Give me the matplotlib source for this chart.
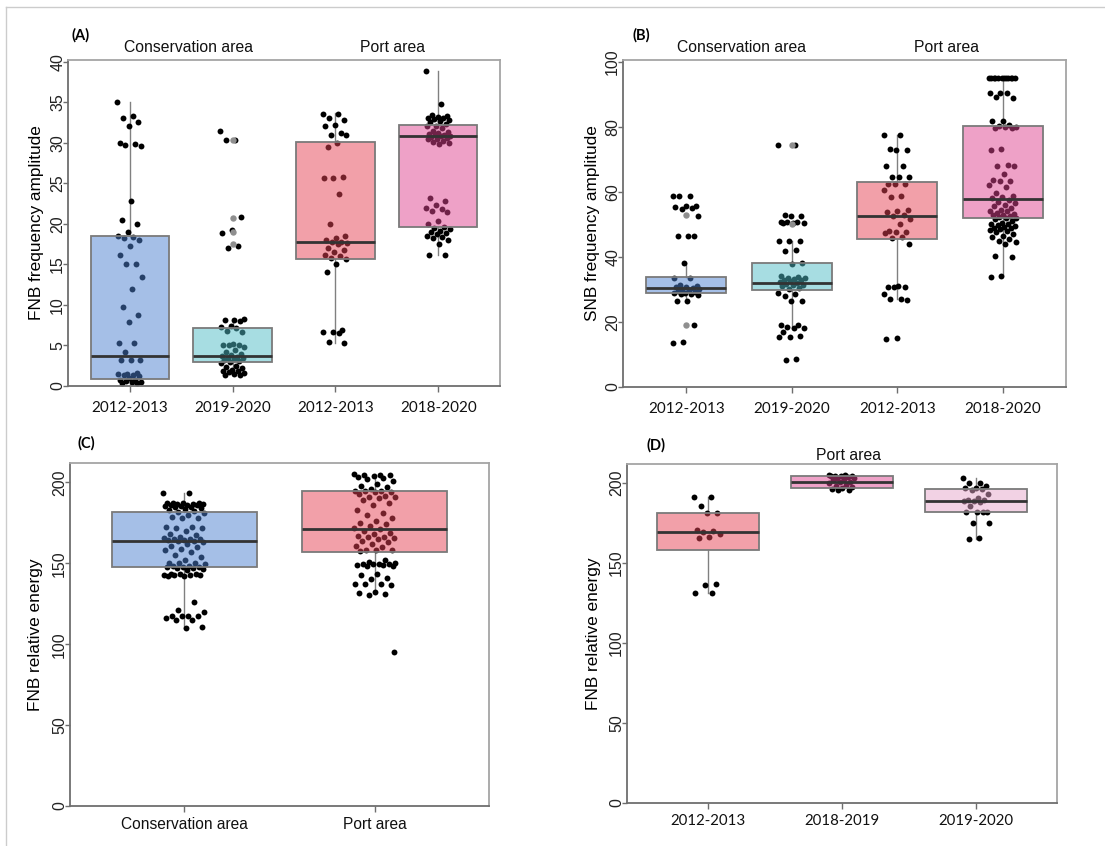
import matplotlib
matplotlib.use("Agg")
import matplotlib.pyplot as plt
import numpy as np
from matplotlib.colors import to_rgb
from matplotlib.lines import Line2D

# ---- (A) FNB frequency amplitude ----
a_groups = ["2012-2013", "2019-2020", "2012-2013", "2018-2020"]
a_cons_1213 = [35.0, 33.3, 33.0, 32.5, 32.0, 30.0, 29.8, 29.7, 29.6, 22.8, 20.5, 20.0, 19.0,
               18.5, 18.4, 18.3, 18.0, 17.3, 16.2, 15.0, 15.0, 13.5, 12.0, 9.7, 8.8, 7.9, 5.3,
               5.3, 4.2, 3.2, 3.2, 3.2, 1.6, 1.5, 1.5, 1.4, 1.3, 1.2, 1.0, 0.8, 0.7, 0.6, 0.5,
               0.5, 0.4, 0.4]
a_cons_1920 = [31.5, 30.3, 30.3, 20.8, 19.2, 18.9, 17.3, 17.0, 8.3, 8.2, 8.1, 8.0, 7.4, 7.3,
               7.2, 6.8, 6.6, 5.2, 5.1, 5.0, 5.0, 4.8, 4.5, 4.2, 4.0, 3.8, 3.7, 3.6, 3.5, 3.4,
               3.3, 3.2, 3.1, 3.0, 2.8, 2.5, 2.3, 2.2, 2.0, 1.9, 1.8, 1.7, 1.6, 1.5, 1.4, 1.3]
a_port_1213 = [33.6, 33.5, 33.0, 32.8, 32.2, 32.0, 31.2, 31.0, 30.9, 30.0, 29.5, 25.8, 25.7,
               25.6, 23.7, 20.0, 18.5, 18.3, 18.0, 17.8, 17.7, 17.6, 17.5, 17.0, 16.8, 16.5,
               16.2, 16.0, 15.8, 15.7, 15.0, 14.0, 6.9, 6.7, 6.6, 6.5, 5.4, 5.3]
a_port_1820 = [38.8, 34.8, 33.4, 33.3, 33.2, 33.1, 33.0, 32.9, 32.8, 32.7, 32.5, 32.3, 32.1,
               32.0, 31.8, 31.5, 31.3, 31.2, 31.1, 31.0, 30.9, 30.8, 30.8, 30.7, 30.6, 30.5,
               30.4, 30.2, 30.1, 30.0, 29.8, 23.2, 22.8, 22.3, 22.0, 21.8, 21.6, 21.5, 20.3,
               20.0, 19.6, 19.5, 19.3, 19.1, 19.0, 18.9, 18.7, 18.5, 18.4, 18.2, 18.0, 17.5,
               16.2, 16.1]
# q1, median, q3, lower whisker, upper whisker
a_q1 = [0.86, 2.9, 15.7, 19.6]
a_med = [3.7, 3.7, 17.8, 30.8]
a_q3 = [18.5, 7.1, 30.1, 32.2]
a_lo = [0.3, 1.3, 5.3, 16.2]
a_hi = [35.0, 8.3, 33.7, 38.8]
a_out = [[], [30.3, 20.7, 19.0, 17.5], [], []]

# ---- (B) SNB frequency amplitude ----
b_groups = ["2012-2013", "2019-2020", "2012-2013", "2018-2020"]
b_cons_1213 = [58.8, 58.7, 58.6, 55.6, 55.5, 55.3, 55.0, 54.8, 52.5, 46.5, 46.4, 46.3, 38.0,
               33.6, 33.4, 31.2, 31.0, 30.8, 30.6, 30.4, 30.2, 30.0, 29.8, 29.5, 29.2, 29.0,
               28.8, 28.6, 28.5, 28.4, 26.5, 26.4, 19.2, 13.7, 13.6]
b_cons_1920 = [74.5, 74.4, 52.8, 52.7, 52.6, 50.8, 50.7, 50.6, 50.5, 50.4, 50.3, 45.0, 44.9,
               44.8, 42.0, 41.9, 38.0, 37.9, 34.0, 33.8, 33.6, 33.4, 33.2, 33.0, 32.8, 32.5,
               32.2, 32.0, 31.8, 31.5, 31.2, 31.0, 30.5, 30.0, 29.0, 28.5, 28.0, 26.5, 26.4,
               19.2, 19.1, 18.3, 18.2, 18.1, 17.0, 15.6, 15.5, 15.4, 8.5, 8.4]
b_port_1213 = [77.6, 77.5, 73.0, 72.9, 72.8, 68.0, 67.9, 64.6, 64.5, 64.4, 62.5, 62.4, 62.3,
               60.5, 58.6, 58.5, 54.5, 54.0, 53.8, 53.0, 52.5, 51.5, 50.2, 47.8, 47.6, 47.5,
               47.4, 46.2, 45.8, 43.8, 30.9, 30.8, 30.7, 30.6, 28.5, 27.0, 26.9, 26.8, 15.0,
               14.9]
b_port_1820 = [95.0, 95.0, 95.0, 95.0, 95.0, 95.0, 95.0, 95.0, 95.0, 95.0, 95.0, 95.0, 90.5,
               90.4, 90.3, 89.0, 88.9, 81.8, 81.7, 80.5, 80.2, 80.0, 79.8, 79.6, 79.5, 73.0,
               72.9, 68.2, 68.0, 67.8, 65.5, 63.6, 63.4, 63.2, 62.0, 61.5, 59.5, 58.8, 58.5,
               58.0, 57.5, 57.0, 56.5, 56.0, 55.5, 55.0, 54.5, 54.2, 54.0, 53.5, 53.2, 53.0,
               52.8, 52.5, 52.2, 52.0, 51.8, 51.5, 51.0, 50.5, 50.2, 50.0, 49.8, 49.5, 49.2,
               49.0, 48.8, 48.5, 48.2, 48.0, 47.5, 47.0, 46.5, 46.0, 45.5, 45.0, 44.5, 44.0,
               40.2, 40.1, 34.0, 33.9]
b_q1 = [28.9, 29.9, 45.4, 51.8]
b_med = [30.3, 32.1, 52.7, 57.7]
b_q3 = [33.8, 38.0, 63.1, 80.2]
b_lo = [26.7, 18.2, 27.0, 34.0]
b_hi = [38.0, 45.0, 77.6, 94.9]
b_out = [[53.0, 19.2], [74.5, 50.0], [], []]

# ---- (C) FNB relative energy by area ----
c_groups = ["Conservation area", "Port area"]
c_cons = [193.5, 193.3, 187.5, 187.4, 187.2, 187.0, 186.8, 186.6, 186.5, 186.3, 186.0, 185.8,
          185.5, 185.2, 185.0, 184.5, 184.0, 183.5, 183.0, 182.5, 182.0, 181.0, 180.0, 178.5,
          178.3, 178.0, 172.5, 172.3, 172.0, 171.8, 170.0, 168.0, 167.5, 166.0, 165.5, 165.2,
          165.0, 164.8, 164.5, 164.2, 164.0, 163.5, 163.0, 162.0, 161.0, 160.0, 159.0, 158.0,
          157.0, 155.0, 154.0, 152.0, 150.5, 150.2, 150.0, 149.5, 148.5, 148.2, 148.0, 147.8,
          147.5, 147.2, 147.0, 146.5, 146.0, 143.5, 143.3, 143.2, 143.0, 142.8, 142.6, 142.5,
          142.4, 142.3, 126.0, 121.0, 120.0, 117.5, 117.4, 117.3, 117.2, 116.0, 115.0, 114.8,
          110.5, 110.3]
c_port = [205.0, 204.8, 204.5, 204.3, 204.0, 203.5, 203.0, 202.0, 201.0, 199.0, 198.0, 197.0,
          196.0, 195.0, 194.8, 194.5, 194.2, 194.0, 193.0, 191.5, 191.0, 190.8, 190.5, 189.0,
          187.0, 186.0, 183.0, 181.0, 180.0, 178.0, 176.0, 175.0, 174.5, 173.0, 172.0, 171.0,
          170.0, 169.0, 168.0, 167.0, 166.5, 166.0, 165.5, 165.0, 164.0, 163.0, 162.0, 161.0,
          160.0, 158.5, 158.3, 158.0, 157.5, 152.0, 151.0, 150.0, 149.8, 149.6, 149.5, 149.3,
          149.0, 148.8, 148.5, 148.2, 143.5, 143.0, 141.0, 140.5, 137.5, 137.3, 137.0, 136.8,
          132.0, 131.5, 131.0, 130.5, 95.0]
c_q1 = [148.0, 157.0]
c_med = [163.6, 171.5]
c_q3 = [182.0, 194.8]
c_lo = [110.0, 130.8]
c_hi = [193.4, 205.0]

# ---- (D) FNB relative energy, port area by period ----
d_groups = ["2012-2013", "2018-2019", "2019-2020"]
d_1213 = [191.6, 191.5, 186.0, 181.6, 181.4, 171.0, 170.2, 169.5, 168.5, 166.2, 166.0, 136.8,
          136.6, 131.5, 131.3]
d_1819 = [205.0, 204.9, 204.8, 204.6, 204.5, 204.2, 204.0, 203.5, 203.0, 202.5, 202.0, 201.0,
          200.5, 200.0, 199.0, 198.0, 197.5, 197.0, 196.5, 196.0, 195.8]
d_1920 = [203.2, 200.4, 200.2, 198.0, 197.0, 196.8, 196.6, 196.0, 193.0, 191.0, 189.5, 189.2,
          189.0, 188.6, 188.3, 186.0, 182.2, 182.1, 182.0, 181.9, 175.2, 175.0, 165.5, 165.4]
d_q1 = [158.2, 197.3, 182.1]
d_med = [169.7, 201.0, 189.0]
d_q3 = [181.6, 204.2, 196.5]
d_lo = [131.5, 195.8, 165.4]
d_hi = [191.6, 205.0, 203.2]

BLUE, CYAN, RED, PINK, LPINK = "#4D81D1", "#51BDC7", "#E74355", "#DF4591", "#E7A7CB"

W, H = 1105, 846
fig = plt.figure(figsize=(W / 100, H / 100), dpi=100)
plt.rcParams['font.family'] = ['Liberation Sans', 'DejaVu Sans']


def panel(l, t, r, b):
    return fig.add_axes([l / W, 1 - b / H, (r - l) / W, (b - t) / H])


def ftext(px, py, s, **kw):
    fig.text(px / W, 1 - py / H, s, ha='center', va='center', **kw)


def draw(ax, series, q1, med, q3, lo, hi, colors, labels, jit, outs=None,
         xfont='Lato', xsize=11, xpad=7):
    pos = np.arange(1, len(series) + 1)
    for p, vals in zip(pos, series):
        n = len(vals)
        off = ((np.arange(n) * 0.618034) % 1 - 0.5) * 2 * jit
        ax.scatter(p + off, vals, s=18, color='black', linewidths=0, zorder=2)
    stats = []
    for i in range(len(series)):
        stats.append({'q1': q1[i], 'med': med[i], 'q3': q3[i], 'whislo': lo[i],
                      'whishi': hi[i], 'fliers': (outs[i] if outs else [])})
    bp = ax.bxp(stats, positions=pos, widths=0.76, patch_artist=True, showcaps=False,
                boxprops=dict(edgecolor='#7a7a7a', linewidth=1.3),
                medianprops=dict(color='#333333', linewidth=2.0),
                whiskerprops=dict(color='#808080', linewidth=1.0),
                flierprops=dict(marker='o', markerfacecolor='#8f8f8f',
                                markeredgecolor='none', markersize=4.6),
                zorder=3)
    for box, c in zip(bp['boxes'], colors):
        box.set_facecolor((*to_rgb(c), 0.5))
    for w in bp['whiskers']:
        w.set_zorder(1)
    for f in bp['fliers']:
        f.set_zorder(4)
    ax.set_xlim(0.4, len(series) + 0.6)
    ax.set_xticks(pos)
    ax.set_xticklabels(labels, fontfamily=xfont, fontsize=xsize, color='#111111')
    for s in ['top', 'right']:
        ax.spines[s].set_color('#a5a5a5')
    for s in ['left', 'bottom']:
        ax.spines[s].set_color('#6e6e6e')
    for s in ax.spines.values():
        s.set_linewidth(1.3)
    ax.tick_params(axis='y', length=3.5, width=1, color='#6e6e6e', pad=-1.5, labelsize=11.5,
                   labelcolor='#222222', labelrotation=90)
    ax.tick_params(axis='x', length=4, width=1, color='#6e6e6e', pad=xpad)
    for lab in ax.get_yticklabels():
        lab.set_va('center')


def ylab(ax, text, xfrac):
    ax.set_ylabel(text, fontsize=12.4)
    ax.yaxis.set_label_coords(xfrac, 0.5)


# (A)
axA = panel(68, 60, 500, 386)
draw(axA, [a_cons_1213, a_cons_1920, a_port_1213, a_port_1820], a_q1, a_med, a_q3, a_lo,
     a_hi, [BLUE, CYAN, RED, PINK], a_groups, 0.12, a_out)
axA.set_ylim(0, 40.2)
axA.set_yticks(np.arange(0, 41, 5))
ylab(axA, "FNB frequency amplitude", -0.056)

# (B)
axB = panel(623, 60, 1066, 387)
draw(axB, [b_cons_1213, b_cons_1920, b_port_1213, b_port_1820], b_q1, b_med, b_q3, b_lo,
     b_hi, [BLUE, CYAN, RED, PINK], b_groups, 0.13, b_out)
axB.set_ylim(0, 100.5)
axB.set_yticks(np.arange(0, 101, 20))
ylab(axB, "SNB frequency amplitude", -0.052)

# (C)
axC = panel(70, 463, 489, 806)
draw(axC, [c_cons, c_port], c_q1, c_med, c_q3, c_lo, c_hi, [BLUE, RED], c_groups, 0.11,
     xfont='Liberation Sans', xsize=11.2, xpad=4)
axC.set_ylim(0, 212)
axC.set_yticks(np.arange(0, 201, 50))
ylab(axC, "FNB relative energy", -0.064)

# (D)
axD = panel(627, 464, 1057, 803)
draw(axD, [d_1213, d_1819, d_1920], d_q1, d_med, d_q3, d_lo, d_hi, [RED, PINK, LPINK],
     d_groups, 0.1, xsize=10.8, xpad=4)
axD.set_ylim(0, 212)
axD.set_yticks(np.arange(0, 201, 50))
ylab(axD, "FNB relative energy", -0.060)

# panel letters and group headings
for x, y, s in [(81, 35, "(A)"), (641, 35, "(B)"), (86, 443, "(C)"), (656, 445, "(D)")]:
    ftext(x, y, s, fontfamily='Lato', fontweight='bold', fontsize=10.5)
for x, y, s in [(189, 48, "Conservation area"), (392, 48, "Port area"),
                (742, 48, "Conservation area"), (947, 48, "Port area"),
                (848, 455, "Port area")]:
    ftext(x, y, s, fontsize=11.3, color='#111111')

# thin outer frame on the top and left
fig.add_artist(Line2D([6 / W, 1], [1 - 7 / H, 1 - 7 / H], color='#cccccc', lw=1))
fig.add_artist(Line2D([6 / W, 6 / W], [0, 1 - 7 / H], color='#cccccc', lw=1))

fig.savefig("out.png", dpi=100)
